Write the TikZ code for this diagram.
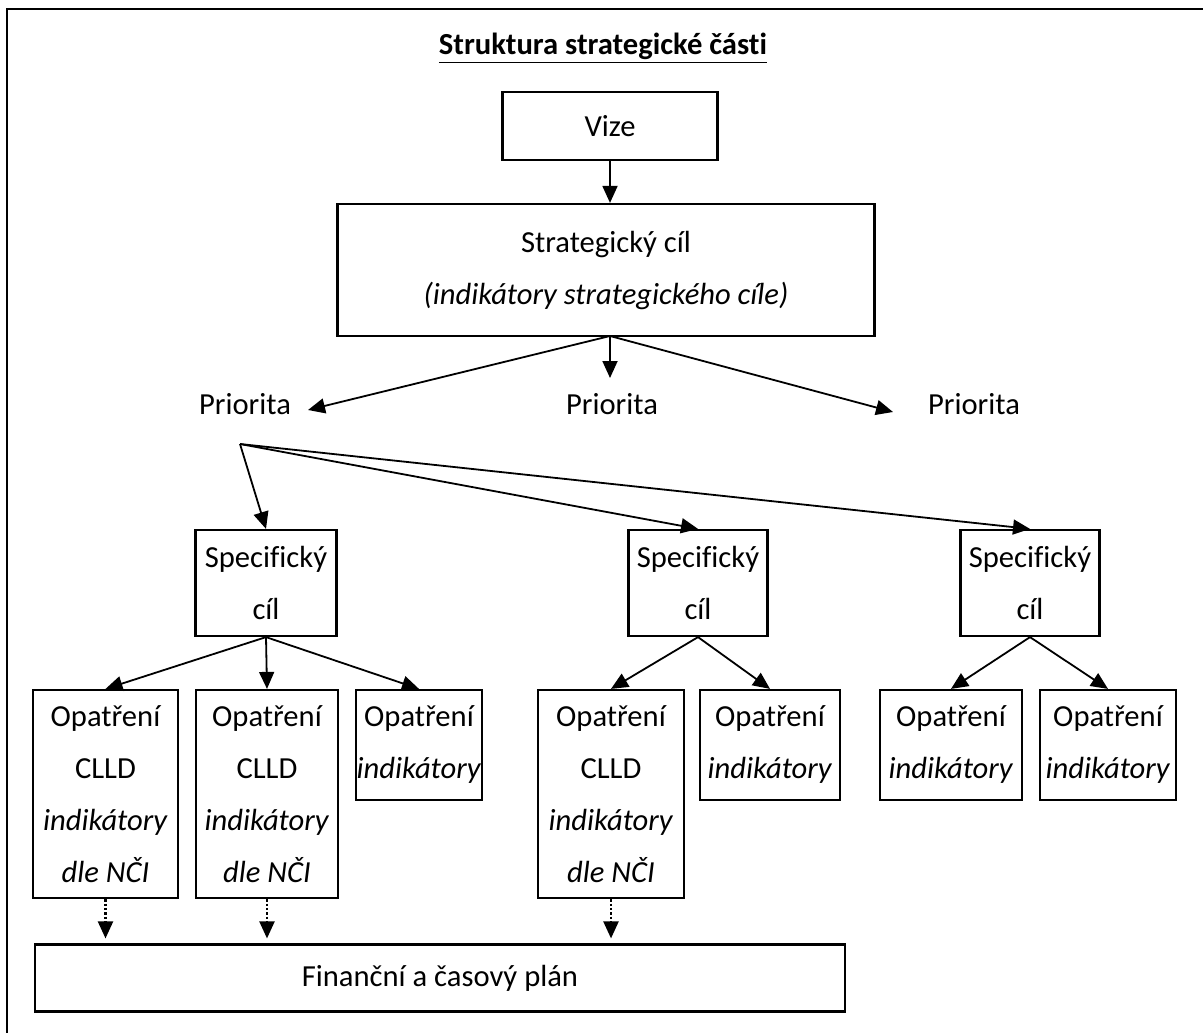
\documentclass[tikz,border=0pt]{standalone}
\usepackage{fontspec}
\setmainfont{Carlito}[Ligatures=NoCommon]
\usetikzlibrary{arrows.meta}

\begin{document}
\begin{tikzpicture}[x=0.5pt, y=-0.5pt,
    every node/.style={font=\fontsize{15.3}{26}\selectfont, align=center, inner sep=0pt},
    box/.style 2 args={draw, line width=1.1pt, minimum width=#1*0.5pt, minimum height=#2*0.5pt},
    arr/.style={line width=0.9pt, -{Triangle[length=8.5pt,width=7.5pt]}},
    dotarr/.style={arr, line width=1.1pt, dash pattern=on 1.2pt off 1pt}]
      \useasboundingbox (0,0) rectangle (1203,1032);
      \draw[line width=1.1pt] (7,1040) -- (7,9) -- (1210,9);
      \node (title) at (603,48) {\textbf{\underline{Struktura strategické části}}};
      \node[box={215}{68}] (vize) at (610,126) {Vize};
      \node[box={537}{132}] (strat) at (606,270) {Strategický cíl\\\textit{(indikátory strategického cíle)}};
      \draw[arr] (vize.south) -- (vize.south |- strat.north);
      \node (pri1) at (245,404) {Priorita};
      \node (pri2) at (612,404) {Priorita};
      \node (pri3) at (974,404) {Priorita};
      \coordinate (stout) at (610,336);
      \coordinate (p1in) at (308,410);
      \coordinate (p2in) at (610,378);
      \coordinate (p3in) at (893,412);
      \draw[arr] (stout) -- (p1in);
      \draw[arr] (stout) -- (p2in);
      \draw[arr] (stout) -- (p3in);
      % specificke cile
      \node[box={141}{106}] (spec1) at (266,583) {Specifický\\cíl};
      \node[box={139}{106}] (spec2) at (698,583) {Specifický\\cíl};
      \node[box={139}{106}] (spec3) at (1030,583) {Specifický\\cíl};
      \coordinate (fork) at (240,444);
      \draw[arr] (fork) -- (spec1.north);
      \draw[arr] (fork) -- (spec2.north);
      \draw[arr] (fork) -- (spec3.north);
      % opatreni
      \node[box={145}{208}] (o1) at (105.5,794) {Opatření\\CLLD\\\textit{indikátory}\\\textit{dle NČI}};
      \node[box={142}{208}] (o2) at (267,794) {Opatření\\CLLD\\\textit{indikátory}\\\textit{dle NČI}};
      \node[box={126}{110}] (o3) at (419,745) {Opatření\\\textit{indikátory}};
      \node[box={146}{208}] (o4) at (611,794) {Opatření\\CLLD\\\textit{indikátory}\\\textit{dle NČI}};
      \node[box={140}{110}] (o5) at (770,745) {Opatření\\\textit{indikátory}};
      \node[box={142}{110}] (o6) at (951,745) {Opatření\\\textit{indikátory}};
      \node[box={136}{110}] (o7) at (1108,745) {Opatření\\\textit{indikátory}};
      \draw[arr] (spec1.south) -- (o1.north);
      \draw[arr] (spec1.south) -- (o2.north);
      \draw[arr] (spec1.south) -- (o3.north);
      \draw[arr] (spec2.south) -- (o4.north);
      \draw[arr] (spec2.south) -- (o5.north);
      \draw[arr] (spec3.south) -- (o6.north);
      \draw[arr] (spec3.south) -- (o7.north);
      % financni plan
      \node[box={810}{67}] (fin) at (440,978) {Finanční a časový plán};
      \draw[dotarr, shorten >=2.5pt] (o1.south) -- (o1.south |- fin.north);
      \draw[dotarr, shorten >=2.5pt] (o2.south) -- (o2.south |- fin.north);
      \draw[dotarr, shorten >=2.5pt] (o4.south) -- (o4.south |- fin.north);
    \end{tikzpicture}
\end{document}
